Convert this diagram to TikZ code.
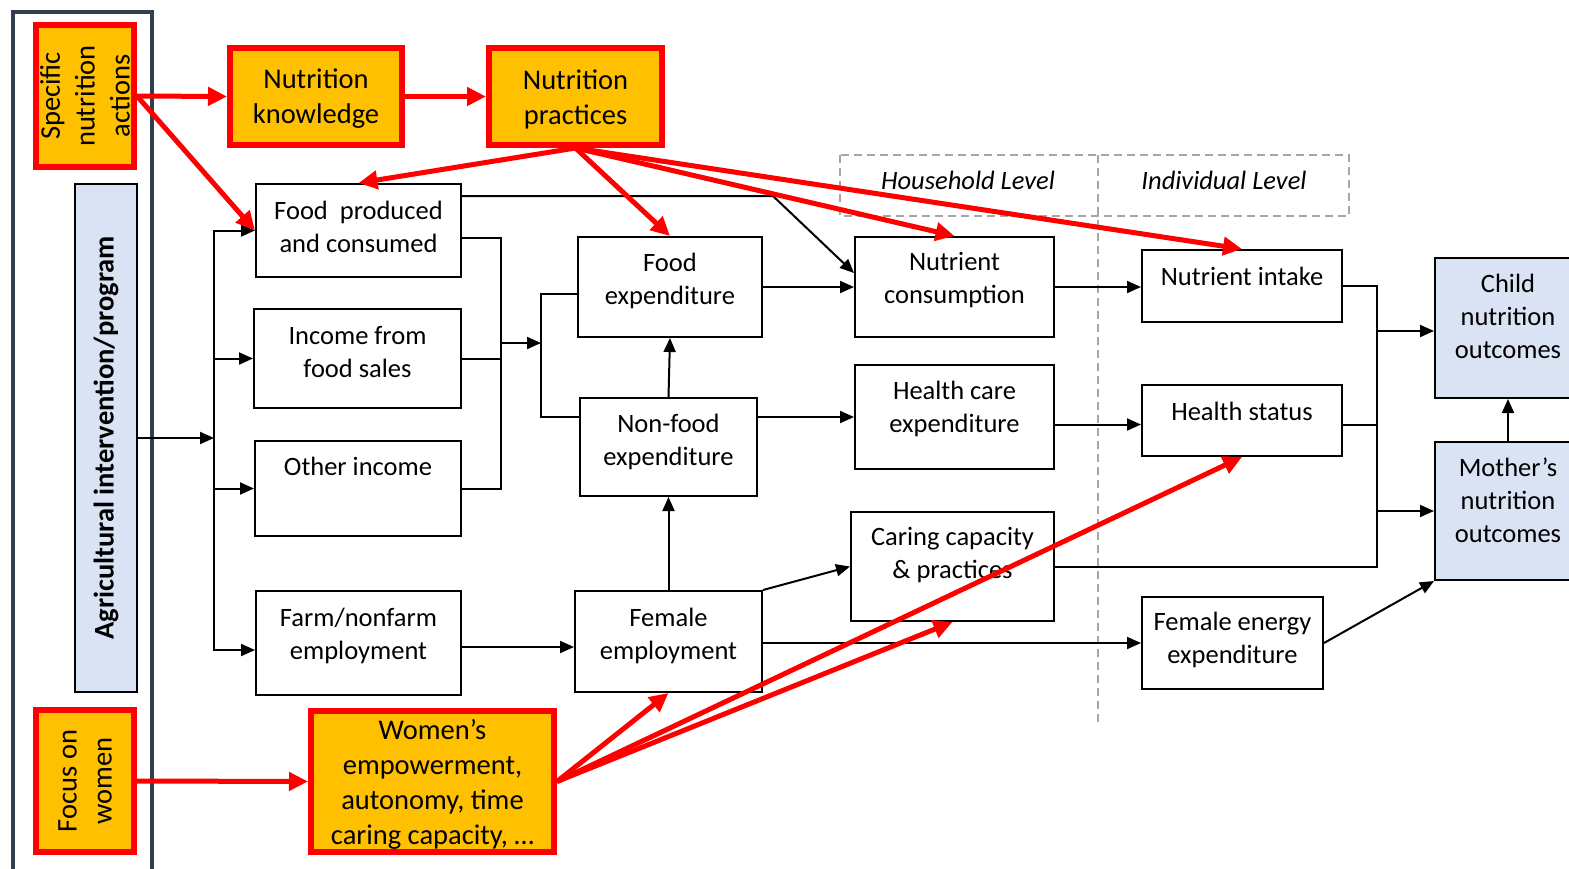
\documentclass[tikz,border=0pt]{standalone}
\usepackage{fontspec}
\setmainfont{Carlito}
\usetikzlibrary{arrows.meta,calc}
\definecolor{orng}{HTML}{FFC000}
\definecolor{lblue}{HTML}{DAE3F3}
\definecolor{slate}{HTML}{333F50}
\definecolor{dgray}{HTML}{A6A6A6}
\tikzset{
 box/.style={draw=black, line width=2pt, fill=white, inner sep=0pt},
 obox/.style={draw=red, line width=6pt, fill=orng, inner sep=0pt, align=center, font=\fontsize{28.5}{35}\selectfont},
 otxt/.style={align=center, font=\fontsize{28.5}{35}\selectfont, inner sep=0pt},
 bbox/.style={draw=black, line width=2pt, fill=lblue, inner sep=0pt},
 txt/.style={align=center, font=\fontsize{26.5}{33}\selectfont, inner sep=0pt},
 arr/.style={line width=2pt, -{Triangle[length=14pt,width=12pt]}},
 ln/.style={line width=2pt},
 rarr/.style={draw=red, line width=5pt, -{Triangle[length=19pt,width=18pt]}},
 lvl/.style={draw=dgray, line width=2pt, dash pattern=on 8pt off 5pt},
}
\begin{document}
\begin{tikzpicture}[x=1pt,y=-1pt]
\useasboundingbox (0,0) rectangle (1569,868);
% left panel
\draw[slate, line width=4pt] (12.5,880) -- (12.5,11.5) -- (152,11.5) -- (152,880);
% level box
\draw[lvl] (840,155) rectangle (1349,216);
\draw[lvl] (1098,155) -- (1098,722);
\node[txt, font=\fontsize{26.5}{33}\selectfont\itshape] (hh) at (968,180) {Household Level};
\node[txt, font=\fontsize{26.5}{33}\selectfont\itshape] (ind) at (1224,180) {Individual Level};

% orange boxes
\node[obox, rotate=90, minimum width=142pt, minimum height=98pt] (spec) at (85,96) {Specific\\nutrition\\actions};
\node[obox, rotate=90, minimum width=142pt, minimum height=98pt] (focus) at (85,781) {Focus on\\women};
\node[obox, minimum width=172pt, minimum height=97pt, label={[otxt,yshift=-2.5pt]center:Nutrition\\knowledge}] (know) at (316,96.5) {};
\node[obox, minimum width=173pt, minimum height=97pt, label={[otxt,yshift=-2.5pt]center:Nutrition\\practices}] (prac) at (575.5,96.5) {};
\node[obox, minimum width=243pt, minimum height=141pt, label={[otxt,yshift=-2.5pt]center:Women’s\\empowerment,\\autonomy, time\\caring capacity, …}] (women) at (432.5,781.5) {};

% agricultural
\node[bbox, rotate=90, minimum width=508pt, minimum height=62pt, font=\fontsize{28.5}{35}\selectfont\bfseries] (agri) at (106,438) {Agricultural intervention/program};

% white boxes
\node[box, minimum width=205pt, minimum height=93pt, label={[txt,yshift=4pt]center:Food\ \ produced\\and consumed}] (fpc) at (358.5,230.5) {};
\node[box, minimum width=207pt, minimum height=99pt, label={[txt,yshift=6pt]center:Income from\\food sales}] (inc) at (357.5,358.5) {};
\node[box, minimum width=206pt, minimum height=95pt, label={[txt,yshift=22pt]center:Other income}] (oth) at (358,488.5) {};
\node[box, minimum width=205pt, minimum height=104pt, label={[txt,yshift=7pt]center:Farm/nonfarm\\employment}] (farm) at (358.5,643) {};
\node[box, minimum width=184pt, minimum height=100pt, label={[txt,yshift=6pt]center:Food\\expenditure}] (fexp) at (670,287) {};
\node[box, minimum width=177pt, minimum height=98pt, label={[txt,yshift=5pt]center:Non-food\\expenditure}] (nfexp) at (668.5,447) {};
\node[box, minimum width=187pt, minimum height=101pt, label={[txt,yshift=5.5pt]center:Female\\employment}] (femp) at (668.5,641.5) {};
\node[box, minimum width=199pt, minimum height=100pt, label={[txt,yshift=6.5pt]center:Nutrient\\consumption}] (ncons) at (954.5,287) {};
\node[box, minimum width=199pt, minimum height=104pt, label={[txt,yshift=8.5pt]center:Health care\\expenditure}] (hce) at (954.5,417) {};
\node[box, minimum width=203pt, minimum height=109pt, label={[txt,yshift=11pt]center:Caring capacity\\\& practices}] (care) at (952.5,566.5) {};
\node[box, minimum width=200pt, minimum height=72pt, label={[txt,yshift=10pt]center:Nutrient intake}] (nint) at (1242,286) {};
\node[box, minimum width=200pt, minimum height=71pt, label={[txt,yshift=9.5pt]center:Health status}] (hstat) at (1242,420.5) {};
\node[box, minimum width=181pt, minimum height=92pt, label={[txt,yshift=3pt]center:Female energy\\expenditure}] (fee) at (1232.5,643) {};
\node[bbox, minimum width=146pt, minimum height=140pt, label={[txt,yshift=12pt]center:Child\\nutrition\\outcomes}] (child) at (1508,328) {};
\node[bbox, minimum width=146pt, minimum height=138pt, label={[txt,yshift=10.5pt]center:Mother’s\\nutrition\\outcomes}] (mother) at (1508,511) {};

% black connectors
\coordinate (bus) at (214,438);
\draw[arr] (agri.south) -- (bus);
\draw[arr] (bus) |- (fpc.west);
\draw[arr] (bus) |- (inc.west);
\draw[arr] (bus) |- (oth.west);
\draw[arr] (bus) |- ([yshift=-7pt]farm.west);

\coordinate (j1) at (501,343);
\coordinate (j2) at (541,343);
\draw[ln] ([yshift=-7.5pt]fpc.east) -| (j1) |- (oth.east);
\draw[ln] (inc.east) -- (inc.east -| j1);
\draw[arr] (j1) -- (j2);
\draw[ln] ([yshift=-7pt]fexp.west) -| (j2) |- ([yshift=30pt]nfexp.west);

\coordinate (kink) at (773,196);
\draw[arr] ([yshift=34.5pt]fpc.east) -- (kink) -- ([yshift=14pt]ncons.west);
\draw[arr] (fexp.east) -- (ncons.west);
\draw[arr] (nfexp.north) -- (fexp.south);
\draw[arr] (nfexp.east |- hce.west) -- (hce.west);
\draw[arr] (femp.north) -- (nfexp.south);
\draw[arr] (femp.north east) -- (care.west);
\draw[arr] (femp.east |- fee.west) -- (fee.west);
\draw[arr] ([yshift=-4pt]farm.east) -- ([yshift=-4pt]farm.east -| femp.west);
\draw[arr] (ncons.east) -- (ncons.east -| nint.west);
\draw[arr] ([yshift=-4pt]hce.east |- hstat.west) -- ([yshift=-4pt]hstat.west);

\coordinate (bx) at (1377,0);
\draw[ln] (nint.east) -| (bx |- care.east) -- (care.east);
\draw[ln] ([yshift=-4pt]hstat.east) -- ([yshift=-4pt]hstat.east -| bx);
\draw[arr] ([yshift=-3pt]bx |- child.west) -- ([yshift=-3pt]child.west);
\draw[arr] (bx |- mother.west) -- (mother.west);
\draw[arr] (mother.north) -- (child.south);
\draw[arr] (fee.east) -- (mother.south west);

% red connectors
\draw[rarr] (spec.south) -- (know.west);
\draw[rarr] (spec.south) -- (fpc.west);
\draw[rarr] (know.east) -- (prac.west);
\draw[rarr] (prac.south) -- (fpc.north);
\draw[rarr] (prac.south) -- (fexp.north);
\draw[rarr] (prac.south) -- (ncons.north);
\draw[rarr] (prac.south) -- (nint.north);
\draw[rarr] (focus.south) -- (women.west);
\draw[rarr] (women.east) -- (femp.south);
\draw[rarr] (women.east) -- (care.south);
\draw[rarr] (women.east) -- (hstat.south);
\end{tikzpicture}
\end{document}
